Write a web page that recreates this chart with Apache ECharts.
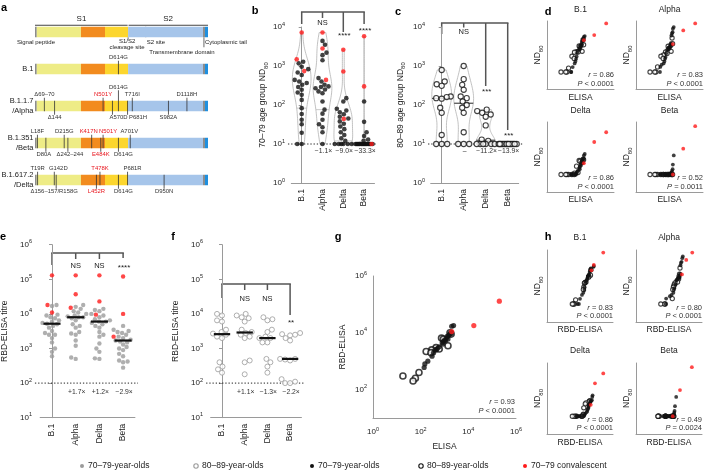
<!DOCTYPE html>
<html><head><meta charset="utf-8">
<script src="https://cdn.jsdelivr.net/npm/echarts/dist/echarts.min.js"></script>
<style>html,body{margin:0;padding:0;background:#fff}#c{width:706px;height:475px}</style>
</head><body><div id="c"></div>
<script>
// ================= DATA =================
const variants = ['B.1', 'Alpha', 'Delta', 'Beta'];

// ND80 – vaccinated 70–79-year-olds (black)
const nd70B1    = [1290, 1170, 960, 830, 680, 590, 440, 400, 365, 330, 290, 246, 210, 182, 135, 83, 59, 42, 32, 19.5, 10, 10];
const nd70Alpha = [4400, 3500, 2200, 1900, 1400, 490, 400, 330, 300, 290, 270, 250, 223, 200, 123, 76, 60, 42, 32, 27, 20, 10];
const nd70Delta = [150, 123, 80, 72, 65, 58, 50, 45, 38, 33, 28, 24, 20, 17, 14, 12, 10, 10, 10, 10, 10, 10];
const nd70Beta  = [123, 37, 20, 16, 13, 12, 10, 10, 10, 10, 10, 10, 10, 10, 10, 10, 10, 10, 10, 10, 10, 10];
// ND80 – vaccinated 80–89-year-olds (open)
const nd80B1    = [790, 400, 340, 310, 165, 160, 150, 145, 85, 63, 17, 10, 10, 10];
const nd80Alpha = [1000, 460, 330, 245, 165, 150, 123, 100, 85, 63, 20, 10, 10, 10];
const nd80Delta = [76, 70, 63, 57, 50, 30, 13, 12, 10, 10, 10, 10, 10, 10];
const nd80Beta  = [10, 10, 10, 10, 10, 10, 10, 10, 10, 10, 10, 10, 10, 10];
// ND80 – 70–79 convalescent (red)
const ndConvB1 = [7200, 1480, 740];
const ndConvAlpha = [7200, 2800, 440];
const ndConvDelta = [2600, 720, 44];
const ndConvBeta = [5800, 300, 10];

// Spike ELISA titres
const elisa70 = [2400, 2000, 1900, 1700, 1500, 1300, 1200, 1400, 1000, 1100, 900, 800, 860, 600, 500, 450, 400, 350, 300, 200, 150, 140];
const elisa80 = [1700, 1900, 750, 900, 1400, 440, 600, 290, 170, 270, 85, 18, 60, 48];
const elisaConv = [200000, 17000, 2000];

// RBD-ELISA titres
const rbd70B1    = [18000, 17000, 9500, 9000, 8000, 7500, 6500, 6000, 5500, 5200, 5000, 4500, 4000, 3200, 2800, 2500, 2500, 2000, 1500, 1000, 800, 600];
const rbd70Alpha = [18000, 16000, 14000, 12000, 11000, 10000, 9000, 8500, 8000, 8000, 7500, 6500, 5000, 4500, 4000, 3000, 2700, 2500, 1700, 1200, 550, 500];
const rbd70Delta = [14000, 13000, 12000, 10000, 9000, 8000, 7000, 6500, 6000, 6000, 5500, 5000, 4500, 4000, 3000, 2500, 2200, 1400, 1000, 800, 520, 500];
const rbd70Beta  = [4500, 3500, 3200, 3000, 2800, 2500, 2200, 2000, 1800, 1700, 1600, 1500, 1300, 1100, 1000, 900, 700, 600, 450, 420, 400, 280];
const rbd80B1    = [10000, 9000, 6500, 6000, 3500, 3000, 2700, 2500, 2200, 2000, 400, 300, 250, 200];
const rbd80Alpha = [10000, 9000, 8000, 7500, 6000, 3500, 3000, 2800, 2500, 2200, 2000, 450, 400, 180];
const rbd80Delta = [8000, 7000, 6500, 3500, 3000, 2200, 2000, 2000, 1500, 1500, 500, 400, 300, 200];
const rbd80Beta  = [2800, 2600, 2500, 2400, 2000, 1700, 500, 500, 480, 450, 130, 110, 100, 100];
const rbdConvB1 = [130000, 18000, 11000];
const rbdConvAlpha = [130000, 37000, 15000];
const rbdConvDelta = [130000, 23000, 9500];
const rbdConvBeta = [120000, 10000, 2200];

const lodND = 10, lodRBD = 100;

// annotations
const sigB = ['', 'NS', '****', '****'], foldB = ['', '−1.1×', '−9.0×', '−33.3×'];
const sigC = ['', 'NS', '***', '***'],  foldC = ['', '–', '−11.2×', '−13.9×'];
const sigE = ['', 'NS', 'NS', '****'],  foldE = ['', '+1.7×', '+1.2×', '−2.9×'];
const sigF = ['', 'NS', 'NS', '**'],    foldF = ['', '+1.1×', '−1.3×', '−2.2×'];
const rD = ['0.86', '0.83', '0.86', '0.52'], pD = ['< 0.0001', '< 0.0001', '< 0.0001', '= 0.0011'];
const rH = ['0.83', '0.80', '0.86', '0.49'], pH = ['< 0.0001', '< 0.0001', '< 0.0001', '= 0.0024'];
const rG = '0.93', pG = '< 0.0001';

// panel a – spike protein map (amino-acid positions)
const spikeSegments = [['signal', 0, 13], ['NTD', 13, 338], ['RBD', 338, 515], ['S1', 515, 685], ['S2', 685, 1236], ['TM', 1236, 1251], ['CT', 1251, 1273]];
const rowLabels = ['', 'B.1', 'B.1.1.7\n/Alpha', 'B.1.351\n/Beta', 'B.1.617.2\n/Delta'];
const rowKeys = ['Spike', 'B.1', 'Alpha', 'Beta', 'Delta'];
const mutB1 = [['D614G', 614, 1]];
const mutAlpha = [['Δ69–70', 69, 1], ['Δ144', 144, -1], ['N501Y', 501, 1], ['A570D', 570, -1], ['D614G', 614, 2], ['P681H', 681, -1], ['T716I', 716, 1], ['S982A', 982, -1], ['D1118H', 1118, 1]];
const mutBeta = [['L18F', 18, 1], ['D80A', 80, -1], ['D215G', 215, 1], ['Δ242–244', 242, -1], ['K417N', 417, 1], ['E484K', 484, -1], ['N501Y', 501, 1], ['D614G', 614, -1], ['A701V', 701, 1]];
const mutDelta = [['T19R', 19, 1], ['G142D', 142, 1], ['Δ156–157/R158G', 156, -1], ['L452R', 452, -1], ['T478K', 478, 1], ['D614G', 614, -1], ['P681R', 681, 1], ['D950N', 950, -1]];
const redMutations = ['N501Y', 'K417N', 'E484K', 'L452R', 'T478K'];

// ================= STYLE / LAYOUT =================
const FONT = '"Liberation Sans", Arial, Helvetica, sans-serif';
const TXT = '#222', AXC = '#9a9a9a', RED = '#ff1a1a', GREY = '#9b9b9b';
const segColors = {signal: '#8c8c8c', NTD: '#eeec86', RBD: '#f28b1e', S1: '#fcd62e', S2: '#a6c5ea', TM: '#8c8c8c', CT: '#1f8fde'};
const labelShift = {'Alpha A570D': 6, 'Alpha P681H': 10.5, 'Beta N501Y': 5, 'Beta K417N': -3, 'Beta A701V': -1, 'Beta D614G': 5, 'Beta D80A': -2, 'Beta Δ242–244': 2, 'Delta G142D': 4, 'Delta P681R': 5, 'Delta D614G': 5, 'Delta Δ156–157/R158G': -2};
const MUT_FONT = 5.9;

const nd70 = [nd70B1, nd70Alpha, nd70Delta, nd70Beta];
const nd80 = [nd80B1, nd80Alpha, nd80Delta, nd80Beta];
const ndConv = [ndConvB1, ndConvAlpha, ndConvDelta, ndConvBeta];
const rbd70 = [rbd70B1, rbd70Alpha, rbd70Delta, rbd70Beta];
const rbd80 = [rbd80B1, rbd80Alpha, rbd80Delta, rbd80Beta];
const rbdConv = [rbdConvB1, rbdConvAlpha, rbdConvDelta, rbdConvBeta];

const powRich = {
  b: {fontSize: 8, fontFamily: FONT, color: TXT, lineHeight: 12},
  s: {fontSize: 5.5, fontFamily: FONT, color: TXT, lineHeight: 7, verticalAlign: 'top'}
};
const subRich = {
  n: {fontSize: 8.5, fontFamily: FONT, color: TXT, lineHeight: 12},
  s: {fontSize: 6, fontFamily: FONT, color: TXT, lineHeight: 7, verticalAlign: 'bottom'}
};
const pow = v => '{b|10}{s|' + Math.round(Math.log10(v)) + '}';
const powEven = v => { const e = Math.round(Math.log10(v)); return e % 2 === 0 ? '{b|10}{s|' + e + '}' : ''; };

const grids = [], xAxes = [], yAxes = [], series = [];
const addGrid = g => { grids.push(Object.assign({containLabel: false, outerBoundsMode: 'none'}, g)); return grids.length - 1; };
const addX = o => { xAxes.push(o); return xAxes.length - 1; };
const addY = o => { yAxes.push(o); return yAxes.length - 1; };

// ---------- helpers ----------
function swarm(vals, pxDec, pxUnit, diam, cap) {
  const idx = vals.map((v, i) => i).sort((a, b) => vals[a] - vals[b]);
  const placed = [], off = new Array(vals.length), maxPx = cap * pxUnit;
  let flip = 1;
  for (const i of idx) {
    const y = Math.log10(vals[i]) * pxDec;
    const cands = [0];
    for (let s = 0.5; s <= maxPx + 1e-9; s += 0.5) cands.push(s * flip, -s * flip);
    let bestX = 0, bestD = -1;
    for (const x of cands) {
      let md = Infinity;
      for (const p of placed) { const d = Math.hypot(p[0] - x, p[1] - y); if (d < md) md = d; }
      if (md >= diam) { bestX = x; break; }
      if (md > bestD) { bestD = md; bestX = x; }
    }
    flip = -flip;
    placed.push([bestX, y]);
    off[i] = bestX / pxUnit;
  }
  return off;
}
function kde(vals, n) {
  const L = vals.map(v => Math.log10(v));
  const lo = Math.min(...L), hi = Math.max(...L);
  const m = L.reduce((a, b) => a + b, 0) / L.length;
  const sd = Math.sqrt(L.reduce((a, b) => a + (b - m) * (b - m), 0) / (L.length - 1));
  const s = L.slice().sort((a, b) => a - b);
  const q = p => { const k = (s.length - 1) * p, f = Math.floor(k), c = Math.min(f + 1, s.length - 1); return s[f] + (s[c] - s[f]) * (k - f); };
  const iqr = q(0.75) - q(0.25);
  const h = 0.9 * Math.min(sd, iqr > 0 ? iqr / 1.34 : sd) * Math.pow(L.length, -0.2);
  if (!(h > 0) || hi - lo <= 0) return null;
  const pts = [];
  for (let i = 0; i <= n; i++) {
    const y = lo + (hi - lo) * i / n; let d = 0;
    for (const l of L) d += Math.exp(-0.5 * ((y - l) / h) * ((y - l) / h));
    pts.push([y, d]);
  }
  const mx = Math.max(...pts.map(p => p[1]));
  return {pts: pts.map(p => [p[0], p[1] / mx]), q};
}
function widthAt(pts, y) {
  if (y <= pts[0][0]) return pts[0][1];
  for (let i = 1; i < pts.length; i++) if (y <= pts[i][0]) {
    const t = (y - pts[i - 1][0]) / (pts[i][0] - pts[i - 1][0]);
    return pts[i - 1][1] + t * (pts[i][1] - pts[i - 1][1]);
  }
  return pts[pts.length - 1][1];
}
const median = a => { const s = a.slice().sort((x, y) => x - y), k = s.length; return k % 2 ? s[(k - 1) / 2] : Math.sqrt(s[k / 2 - 1] * s[k / 2]); };

function logAxisY(gi, min, max, extra) {
  return addY(Object.assign({
    type: 'log', logBase: 10, gridIndex: gi, min, max,
    axisLine: {show: true, lineStyle: {color: AXC, width: 1}},
    axisTick: {show: true, length: 3, lineStyle: {color: AXC}},
    minorTick: {show: false}, splitLine: {show: false},
    axisLabel: {formatter: pow, rich: powRich, margin: 3},
    nameLocation: 'middle', nameRotate: 90
  }, extra));
}
function catPanel(c) {
  const gi = addGrid({left: c.left, top: c.top, width: c.width, height: c.height});
  const xc = addX({type: 'category', gridIndex: gi, data: variants, boundaryGap: true, position: 'bottom',
    axisLine: {show: true, lineStyle: {color: AXC}}, axisTick: {show: false},
    axisLabel: {rotate: 90, fontSize: 8.5, color: TXT, margin: 6, fontFamily: FONT}});
  const xv = addX({type: 'value', gridIndex: gi, min: -0.5, max: 3.5, show: false});
  const y = logAxisY(gi, c.min, c.max, {offset: c.offset, name: c.name, nameGap: c.nameGap,
    nameTextStyle: {rich: subRich, fontSize: 8.5, color: TXT, fontFamily: FONT, lineHeight: 12}});
  return {gi, xc, xv, y, pxUnit: c.width / 4, pxDec: c.height / Math.log10(c.max / c.min)};
}
function lodSeries(P, lod, x0, x1, color) {
  return {type: 'custom', xAxisIndex: P.xv, yAxisIndex: P.y, data: [[x0, lod, x1]], clip: false, silent: true, z: 1,
    renderItem(params, api) {
      const a = api.coord([api.value(0), api.value(1)]), b = api.coord([api.value(2), api.value(1)]);
      return {type: 'line', shape: {x1: a[0], y1: a[1], x2: b[0], y2: b[1]}, style: {stroke: color || '#222', lineWidth: 1, lineDash: [1.3, 1.9]}};
    }};
}
function violinSeries(P, groups, W, kind) {
  const ks = groups.map(g => kde(g, 48));
  return {type: 'custom', xAxisIndex: P.xv, yAxisIndex: P.y, data: groups.map((g, i) => [i, g[0]]), clip: false, silent: true, z: 1,
    renderItem(params, api) {
      const i = params.dataIndex, k = ks[i];
      if (!k) return null;
      const right = k.pts.map(p => api.coord([i + p[1] * W, Math.pow(10, p[0])]));
      const left = k.pts.slice().reverse().map(p => api.coord([i - p[1] * W, Math.pow(10, p[0])]));
      const qv = kind === 'q1' ? k.q(0.25) : k.q(0.5);
      const w = widthAt(k.pts, qv) * W;
      const a = api.coord([i - w, Math.pow(10, qv)]), b = api.coord([i + w, Math.pow(10, qv)]);
      return {type: 'group', children: [
        {type: 'polygon', shape: {points: right.concat(left)}, style: {fill: 'rgba(255,255,255,0)', stroke: '#b2b2b2', lineWidth: 0.8}},
        {type: 'line', shape: {x1: a[0], y1: a[1], x2: b[0], y2: b[1]}, style: {stroke: kind === 'q1' ? '#bdbdbd' : '#4a4a4a', lineWidth: kind === 'q1' ? 0.8 : 1.2}}
      ]};
    }};
}
function swarmSeries(P, groupsList, diam, cap, styles) {
  const out = styles.map(() => []);
  for (let i = 0; i < 4; i++) {
    const all = [], owner = [];
    groupsList.forEach((gl, s) => gl[i].forEach(v => { all.push(v); owner.push(s); }));
    const off = swarm(all, P.pxDec, P.pxUnit, diam, cap);
    all.forEach((v, j) => out[owner[j]].push([i + off[j], v]));
  }
  return styles.map((st, s) => Object.assign({type: 'scatter', xAxisIndex: P.xv, yAxisIndex: P.y, data: out[s], silent: true, z: 3 + s}, st));
}
function medianSeries(P, groups) {
  return {type: 'custom', xAxisIndex: P.xv, yAxisIndex: P.y, data: groups.map((g, i) => [i, median(g)]), clip: false, silent: true, z: 6,
    renderItem(params, api) {
      const a = api.coord([api.value(0) - 0.36, api.value(1)]), b = api.coord([api.value(0) + 0.36, api.value(1)]);
      return {type: 'line', shape: {x1: a[0], y1: a[1], x2: b[0], y2: b[1]}, style: {stroke: '#111', lineWidth: 2.2}};
    }};
}
const blackDot = s => ({symbol: 'circle', symbolSize: s, itemStyle: {color: '#111'}});
const redDot = s => ({symbol: 'circle', symbolSize: s, itemStyle: {color: RED}});
const openDot = (s, c, w) => ({symbol: 'circle', symbolSize: s, itemStyle: {color: '#fff', borderColor: c, borderWidth: w}});

// ================= PANEL a =================
const gA = addGrid({left: 35, top: 13.5, width: 173, height: 185});
const xA = addX({type: 'value', gridIndex: gA, min: 0, max: 1273, show: false});
const yA = addY({type: 'category', gridIndex: gA, data: rowLabels, inverse: true,
  axisLine: {show: false}, axisTick: {show: false}, splitLine: {show: false},
  axisLabel: {fontSize: 7.5, color: TXT, margin: 1.5, lineHeight: 9.5, fontFamily: FONT}});
const BAR_H = 10.5;
const segData = [];
rowLabels.forEach((r, ri) => spikeSegments.forEach((s, si) => segData.push([s[1], ri, s[2], si])));
series.push({type: 'custom', xAxisIndex: xA, yAxisIndex: yA, data: segData, clip: false, silent: true, z: 1,
  renderItem(params, api) {
    const s = api.coord([api.value(0), api.value(1)]), e = api.coord([api.value(2), api.value(1)]);
    const seg = spikeSegments[api.value(3)];
    return {type: 'rect', shape: {x: s[0], y: s[1] - BAR_H / 2, width: e[0] - s[0], height: BAR_H}, style: {fill: segColors[seg[0]]}};
  }});
const mutFlat = [];
[[1, mutB1], [2, mutAlpha], [3, mutBeta], [4, mutDelta]].forEach(([row, list]) =>
  list.forEach(m => mutFlat.push({aa: m[1], row, side: m[2], label: m[0], key: rowKeys[row] + ' ' + m[0]})));
series.push({type: 'custom', xAxisIndex: xA, yAxisIndex: yA, data: mutFlat.map(m => [m.aa, m.row]), clip: false, silent: true, z: 2,
  renderItem(params, api) {
    const m = mutFlat[params.dataIndex];
    const c = api.coord([api.value(0), api.value(1)]);
    const top = c[1] - BAR_H / 2, bot = c[1] + BAR_H / 2;
    const red = redMutations.indexOf(m.label) >= 0;
    const dx = labelShift[m.key] || 0;
    let y1, y2, ty, va;
    if (m.side > 0) { const lift = m.side === 2 ? 10.5 : 3; y1 = top - lift; y2 = bot; ty = top - lift; va = 'bottom'; }
    else { y1 = top; y2 = bot + 3.5; ty = bot + 3.5; va = 'top'; }
    return {type: 'group', children: [
      {type: 'line', shape: {x1: c[0], y1, x2: c[0], y2}, style: {stroke: '#333', lineWidth: 0.8}},
      {type: 'text', style: {text: m.label, x: c[0] + dx, y: ty, fill: red ? '#e8141c' : '#333', fontSize: MUT_FONT, fontFamily: FONT, align: 'center', verticalAlign: va}}
    ]};
  }});

// ================= PANEL b =================
const PB = catPanel({left: 291.3, top: 27, width: 83.2, height: 156, min: 1, max: 10000, offset: 3.3,
  name: '{n|70–79 age group ND}{s|80}', nameGap: 18});
series.push(violinSeries(PB, [0, 1, 2, 3].map(i => nd70[i].concat(ndConv[i])), 0.45, 'q1'));
series.push(lodSeries(PB, lodND, -0.66, 3.62));
series.push(...swarmSeries(PB, [nd70, ndConv], 4.4, 0.42, [blackDot(4.6), redDot(4.6)]));

// ================= PANEL c =================
const PC = catPanel({left: 430.7, top: 27, width: 88, height: 156, min: 1, max: 10000, offset: 2.7,
  name: '{n|80–89 age group ND}{s|80}', nameGap: 21.5});
series.push(violinSeries(PC, nd80, 0.45, 'median'));
series.push(lodSeries(PC, lodND, -0.62, 3.7));
series.push(...swarmSeries(PC, [nd80], 5.2, 0.42, [openDot(5.2, '#111', 1.1)]));

// ================= PANEL e =================
const PE = catPanel({left: 40.15, top: 244.7, width: 94.8, height: 173, min: 10, max: 1e6, offset: 5.15,
  name: 'RBD-ELISA titre', nameGap: 24});
series.push(lodSeries(PE, lodRBD, -0.72, 3.63));
series.push(...swarmSeries(PE, [rbd70, rbdConv], 4.3, 0.46, [{symbol: 'circle', symbolSize: 4.4, itemStyle: {color: GREY}}, redDot(4.4)]));
series.push(medianSeries(PE, [0, 1, 2, 3].map(i => rbd70[i].concat(rbdConv[i]))));

// ================= PANEL f =================
const PF = catPanel({left: 210.65, top: 244.7, width: 90.8, height: 173, min: 10, max: 1e6, offset: 4.65,
  name: 'RBD-ELISA titre', nameGap: 24.5});
series.push(lodSeries(PF, lodRBD, -0.7, 3.66));
series.push(...swarmSeries(PF, [rbd80], 5, 0.46, [openDot(5, GREY, 1)]));
series.push(medianSeries(PF, rbd80));

// ================= PANELS d & h (small scatter grids) =================
function scatPanel(box, xmin, xmax, ymin, ymax, xname, yname, xgap, ygap) {
  const gi = addGrid({left: box[0], top: box[1], width: box[2], height: box[3]});
  const x = addX({type: 'log', logBase: 10, gridIndex: gi, min: xmin, max: xmax,
    axisLine: {show: true, lineStyle: {color: AXC}}, axisTick: {show: false}, axisLabel: {show: false}, splitLine: {show: false}, minorTick: {show: false},
    name: xname, nameLocation: 'middle', nameGap: xgap, nameTextStyle: {fontSize: 8.5, color: TXT, fontFamily: FONT}});
  const y = addY({type: 'log', logBase: 10, gridIndex: gi, min: ymin, max: ymax,
    axisLine: {show: true, lineStyle: {color: AXC}}, axisTick: {show: false}, axisLabel: {show: false}, splitLine: {show: false}, minorTick: {show: false},
    name: yname, nameLocation: 'middle', nameRotate: 90, nameGap: ygap, nameTextStyle: {rich: subRich, fontSize: 8.5, lineHeight: 12}});
  return {gi, x, y, box};
}
function pairs(xs, ys) { return xs.map((x, j) => [x, ys[j]]); }
const dBoxes = [[547, 21, 67, 68], [636, 21, 67, 68], [547, 122, 67, 70], [636, 122, 67, 70]];
const hBoxes = [[547, 250, 66, 72], [636, 250, 66, 72], [547, 363, 66, 71], [636, 363, 66, 71]];
for (let i = 0; i < 4; i++) {
  const p = scatPanel(dBoxes[i], 1, 1e6, 1, 1e4, 'ELISA', '{n|ND}{s|80}', i < 2 ? 4.5 : 3.5, 3);
  series.push(Object.assign({type: 'scatter', xAxisIndex: p.x, yAxisIndex: p.y, data: pairs(elisa80, nd80[i]), silent: true, z: 3}, openDot(4.2, '#111', 1.1)));
  series.push(Object.assign({type: 'scatter', xAxisIndex: p.x, yAxisIndex: p.y, data: pairs(elisa70, nd70[i]), silent: true, z: 4}, blackDot(3.8)));
  series.push(Object.assign({type: 'scatter', xAxisIndex: p.x, yAxisIndex: p.y, data: pairs(elisaConv, ndConv[i]), silent: true, z: 5}, redDot(3.8)));
}
for (let i = 0; i < 4; i++) {
  const p = scatPanel(hBoxes[i], 1, 1e6, 1, 1e4, 'RBD-ELISA', '{n|ND}{s|80}', i < 2 ? 3.5 : 4.5, 3);
  series.push(Object.assign({type: 'scatter', xAxisIndex: p.x, yAxisIndex: p.y, data: pairs(rbd80[i], nd80[i]), silent: true, z: 3}, openDot(4.2, '#111', 1.1)));
  series.push(Object.assign({type: 'scatter', xAxisIndex: p.x, yAxisIndex: p.y, data: pairs(rbd70[i], nd70[i]), silent: true, z: 4}, blackDot(3.8)));
  series.push(Object.assign({type: 'scatter', xAxisIndex: p.x, yAxisIndex: p.y, data: pairs(rbdConv[i], ndConv[i]), silent: true, z: 5}, redDot(3.8)));
}

// ================= PANEL g =================
const gG = addGrid({left: 373, top: 276, width: 143, height: 142});
const xG = addX({type: 'log', logBase: 10, gridIndex: gG, min: 1, max: 1e6,
  axisLine: {show: true, lineStyle: {color: AXC}}, axisTick: {show: false}, splitLine: {show: false}, minorTick: {show: false},
  axisLabel: {formatter: powEven, rich: powRich, margin: 8}, name: 'ELISA', nameLocation: 'middle', nameGap: 24.5,
  nameTextStyle: {fontSize: 8.5, color: TXT, fontFamily: FONT}});
const yG = addY({type: 'log', logBase: 10, gridIndex: gG, min: 10, max: 1e6,
  axisLine: {show: true, lineStyle: {color: AXC}}, axisTick: {show: false}, splitLine: {show: false}, minorTick: {show: false},
  axisLabel: {formatter: powEven, rich: powRich, margin: 6}, name: 'RBD-ELISA', nameLocation: 'middle', nameRotate: 90, nameGap: 24.5,
  nameTextStyle: {fontSize: 8.5, color: TXT, fontFamily: FONT, lineHeight: 12}});
series.push(Object.assign({type: 'scatter', xAxisIndex: xG, yAxisIndex: yG, data: pairs(elisa80, rbd80B1), silent: true, z: 3}, openDot(6, '#111', 1.6)));
series.push(Object.assign({type: 'scatter', xAxisIndex: xG, yAxisIndex: yG, data: pairs(elisa70, rbd70B1), silent: true, z: 4}, blackDot(5.2)));
series.push(Object.assign({type: 'scatter', xAxisIndex: xG, yAxisIndex: yG, data: pairs(elisaConv, rbdConvB1), silent: true, z: 5}, redDot(5.2)));

// ================= RENDER =================
const chart = echarts.init(document.getElementById('c'), null, {renderer: 'canvas'});
chart.setOption({animation: false, backgroundColor: '#fff', textStyle: {fontFamily: FONT},
  grid: grids, xAxis: xAxes, yAxis: yAxes, series});

const px = (xi, yi, x, y) => chart.convertToPixel({xAxisIndex: xi, yAxisIndex: yi}, [x, y]);
const G = [];
function T(x, y, t, o) {
  G.push({type: 'text', silent: true, style: Object.assign({text: t, x, y, fill: TXT, fontSize: 8.5, fontFamily: FONT, align: 'center', verticalAlign: 'middle'}, o || {})});
}
function L(x1, y1, x2, y2, o) {
  G.push({type: 'line', silent: true, shape: {x1, y1, x2, y2}, style: Object.assign({stroke: '#555', lineWidth: 1.5}, o || {})});
}
// panel letters
[['a', 4, 8], ['b', 255, 11], ['c', 398, 12], ['d', 548, 12], ['e', 3, 237], ['f', 173, 237], ['g', 338, 237], ['h', 548, 237]]
  .forEach(l => T(l[1], l[2], l[0], {fontSize: 11, fontWeight: 'bold', fill: '#000'}));

// panel a notes
const ax = aa => px(xA, yA, aa, 0)[0];
const r0 = px(xA, yA, 0, 0)[1], r0top = r0 - BAR_H / 2, r0bot = r0 + BAR_H / 2;
L(ax(0), r0top - 1.5, ax(685) - 0.5, r0top - 1.5, {stroke: '#444', lineWidth: 1});
L(ax(685) + 0.5, r0top - 1.5, ax(1273), r0top - 1.5, {stroke: '#444', lineWidth: 1});
T(ax(342), r0top - 8, 'S1', {fontSize: 8});
T(ax(979), r0top - 8, 'S2', {fontSize: 8});
T(ax(200), r0, 'NTD', {fontSize: 6.5});
T(ax(426), r0, 'RBD', {fontSize: 6.5});
L(ax(815), r0top, ax(815), r0bot, {stroke: '#666', lineWidth: 0.8});
L(ax(685), r0bot, ax(685), r0bot + 2, {stroke: '#444', lineWidth: 0.8});
L(ax(1243), r0bot, ax(1243), r0bot + 10, {stroke: '#444', lineWidth: 0.8});
T(ax(7), r0bot + 5, 'Signal peptide', {fontSize: 6});
T(ax(685) - 1, r0bot + 4.5, 'S1/S2', {fontSize: 6});
T(ax(685) - 1, r0bot + 10.5, 'cleavage site', {fontSize: 6});
T(ax(815) + 1, r0bot + 5, 'S2 site', {fontSize: 6, align: 'left'});
T(ax(1243) - 22, r0bot + 15, 'Transmembrane domain', {fontSize: 6});
T(ax(1243) + 1, r0bot + 5, 'Cytoplasmic tail', {fontSize: 6, align: 'left'});

// brackets, significance and fold labels
function brackets(P, br, sig, fold, foldY) {
  const cx = [0, 1, 2, 3].map(i => px(P.xv, P.y, i, 10)[0]);
  L(cx[0] - 0.75, br.top, cx[3] + 0.75, br.top);
  for (let i = 0; i < 4; i++) {
    L(cx[i], br.top, cx[i], br.drop[i]);
    if (sig[i]) T(cx[i] + (sig[i][0] === '*' ? 1 : 0), br.lab[i], sig[i], {fontSize: sig[i][0] === '*' ? 8 : 7.5});
    if (fold[i]) T(cx[i] + 1, foldY, fold[i], {fontSize: 6.8, fill: '#333'});
  }
}
brackets(PB, {top: 12, drop: [24, 18, 32, 24], lab: [0, 23, 36, 31]}, sigB, foldB, 151.5);
brackets(PC, {top: 23, drop: [34, 27.5, 86, 130], lab: [0, 32, 92, 136]}, sigC, foldC, 151);
brackets(PE, {top: 253, drop: [265, 259, 259, 258], lab: [0, 266, 266, 267.5]}, sigE, foldE, 392);
brackets(PF, {top: 284, drop: [298, 290, 290, 315], lab: [0, 299, 299, 323]}, sigF, foldF, 392);

// titles and statistics on small scatter panels
const statRich = {i: {fontStyle: 'italic', fontSize: 7.5, fontFamily: FONT, fill: '#333'}, t: {fontSize: 7.5, fontFamily: FONT, fill: '#333'}};
function stats(box, r, p, yR, yP) {
  const right = box[0] + box[2];
  G.push({type: 'text', silent: true, style: {text: '{i|r}{t| = ' + r + '}', rich: statRich, x: right, y: yR, align: 'right', verticalAlign: 'middle'}});
  G.push({type: 'text', silent: true, style: {text: '{i|P}{t| ' + p + '}', rich: statRich, x: right, y: yP, align: 'right', verticalAlign: 'middle'}});
}
for (let i = 0; i < 4; i++) {
  const b = dBoxes[i];
  T(b[0] + b[2] / 2, b[1] - 11, variants[i], {fontSize: 8.5});
  stats(b, rD[i], pD[i], b[1] + b[3] - 14, b[1] + b[3] - 5.5);
  const h = hBoxes[i];
  T(h[0] + h[2] / 2, h[1] - 12, variants[i], {fontSize: 8.5});
  stats(h, rH[i], pH[i], h[1] + h[3] - 14.5, h[1] + h[3] - 6.5);
}
stats([373, 276, 142, 142], rG, pG, 402, 411);

// legend
const LY = 466;
const legendItems = [
  [82, 'fill', GREY, '70–79-year-olds'], [196, 'open', GREY, '80–89-year-olds'],
  [312, 'fill', '#111', '70–79-year-olds'], [421, 'open', '#111', '80–89-year-olds'],
  [525, 'fill', RED, '70–79 convalescent']
];
legendItems.forEach(it => {
  G.push({type: 'circle', silent: true, shape: {cx: it[0], cy: LY, r: it[1] === 'fill' ? 2 : 2.2},
    style: it[1] === 'fill' ? {fill: it[2]} : {fill: '#fff', stroke: it[2], lineWidth: 1.1}});
  T(it[0] + 6, LY, it[3], {align: 'left', fontSize: 8.5});
});

chart.setOption({graphic: G});
</script></body></html>
